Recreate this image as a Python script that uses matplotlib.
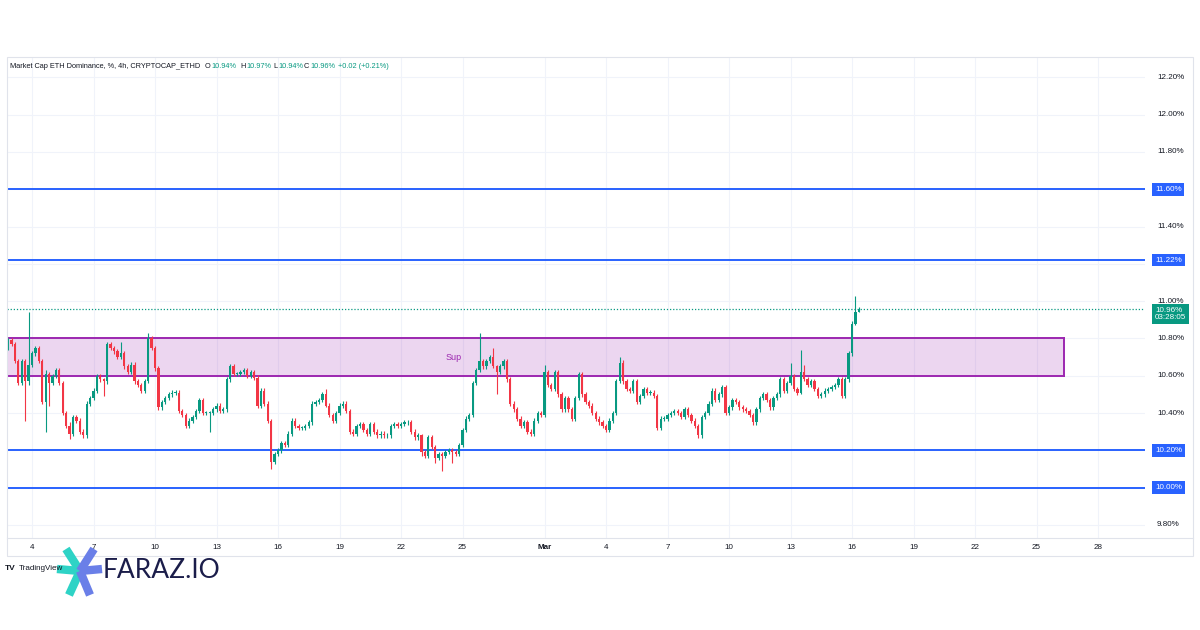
import numpy as np
import matplotlib
matplotlib.use("Agg")
import matplotlib.pyplot as plt
import matplotlib.patches as patches
import matplotlib.transforms as transforms
from matplotlib.lines import Line2D

plt.rcParams['font.family'] = ['Liberation Sans', 'DejaVu Sans']

# ---- data (ETH dominance, %, 4h candles from Feb 2 20:00) ----
first_open = 10.75
closes = [
    10.79, 10.77, 10.68, 10.56, 10.68, 10.57, 10.66, 10.72, 10.75, 10.68,
    10.46, 10.61, 10.56, 10.60, 10.63, 10.56, 10.40, 10.33, 10.29, 10.38,
    10.36, 10.30, 10.28, 10.45, 10.48, 10.52, 10.60, 10.58, 10.57, 10.77,
    10.75, 10.73, 10.70, 10.72, 10.65, 10.62, 10.66, 10.57, 10.55, 10.52,
    10.57, 10.80, 10.75, 10.64, 10.43, 10.46, 10.48, 10.50, 10.51, 10.51,
    10.41, 10.39, 10.33, 10.36, 10.38, 10.41, 10.47, 10.40, 10.40, 10.40,
    10.42, 10.44, 10.41, 10.42, 10.58, 10.65, 10.61, 10.61, 10.62, 10.63,
    10.60, 10.62, 10.59, 10.44, 10.52, 10.45, 10.36, 10.14, 10.18, 10.20,
    10.24, 10.23, 10.29, 10.36, 10.33, 10.32, 10.32, 10.33, 10.35, 10.45,
    10.46, 10.47, 10.50, 10.44, 10.39, 10.36, 10.40, 10.44, 10.45, 10.41,
    10.30, 10.29, 10.33, 10.34, 10.31, 10.29, 10.34, 10.30, 10.28, 10.29,
    10.28, 10.28, 10.33, 10.34, 10.33, 10.34, 10.35, 10.35, 10.30, 10.27,
    10.28, 10.19, 10.17, 10.27, 10.22, 10.16, 10.18, 10.17, 10.19, 10.20,
    10.19, 10.18, 10.23, 10.31, 10.37, 10.39, 10.56, 10.63, 10.68, 10.65,
    10.68, 10.70, 10.65, 10.62, 10.65, 10.68, 10.58, 10.45, 10.42, 10.37,
    10.33, 10.35, 10.30, 10.29, 10.36, 10.40, 10.39, 10.62, 10.55, 10.53,
    10.62, 10.50, 10.42, 10.48, 10.42, 10.37, 10.48, 10.61, 10.50, 10.46,
    10.44, 10.40, 10.37, 10.35, 10.33, 10.31, 10.36, 10.40, 10.57, 10.67,
    10.57, 10.53, 10.52, 10.57, 10.46, 10.49, 10.53, 10.51, 10.51, 10.49,
    10.32, 10.37, 10.37, 10.39, 10.40, 10.41, 10.40, 10.38, 10.42, 10.39,
    10.36, 10.33, 10.28, 10.38, 10.40, 10.45, 10.52, 10.47, 10.50, 10.54,
    10.40, 10.43, 10.47, 10.46, 10.43, 10.42, 10.41, 10.39, 10.35, 10.42,
    10.48, 10.50, 10.47, 10.43, 10.48, 10.50, 10.58, 10.52, 10.56, 10.60,
    10.53, 10.51, 10.62, 10.58, 10.55, 10.57, 10.53, 10.49, 10.50, 10.52,
    10.53, 10.54, 10.55, 10.58, 10.49, 10.58, 10.72, 10.88, 10.94, 10.96,
]
# candles with longer wicks (index, upper wick, lower wick), the rest get a small default
wick_index = [5, 6, 11, 12, 18, 28, 33, 41, 59, 77, 93, 121, 125, 127, 130,
              138, 142, 143, 157, 179, 229, 232, 233, 248, 249]
wick_upper = [0.01, 0.28, 0.02, 0.01, 0.02, 0.01, 0.06, 0.03, 0.01, 0.01, 0.03, 0.01, 0.01, 0.01, 0.01,
              0.15, 0.05, 0.01, 0.04, 0.03, 0.07, 0.12, 0.04, 0.09, 0.01]
wick_lower = [0.21, 0.02, 0.16, 0.12, 0.03, 0.08, 0.01, 0.01, 0.10, 0.04, 0.01, 0.02, 0.03, 0.08, 0.06,
              0.01, 0.01, 0.12, 0.01, 0.01, 0.01, 0.01, 0.01, 0.01, 0.0]
default_wick = 0.012

levels = [11.60, 11.22, 10.20, 10.00]
sup_low, sup_high = 10.60, 10.80
sup_end = 54.34          # Mar 26
last_price = 10.96
price_ticks = [9.80, 10.00, 10.20, 10.40, 10.60, 10.80, 11.00, 11.20, 11.40, 11.60, 11.80, 12.00, 12.20]
date_ticks = [4, 7, 10, 13, 16, 19, 22, 25, 29, 32, 35, 38, 41, 44, 47, 50, 53, 56]
date_labels = ['4', '7', '10', '13', '16', '19', '22', '25', 'Mar', '4', '7', '10', '13', '16', '19', '22', '25', '28']

UP = '#089981'
DOWN = '#F23645'
BLUE = '#2962FF'
PURPLE = '#9C27B0'
TXT = '#131722'

# ---- build candles ----
closes = np.array(closes)
opens = np.concatenate([[first_open], closes[:-1]])
up_w = np.full(len(closes), default_wick)
lo_w = np.full(len(closes), default_wick)
up_w[wick_index] = wick_upper
lo_w[wick_index] = wick_lower
highs = np.maximum(opens, closes) + up_w
lows = np.minimum(opens, closes) - lo_w
x = 2 + 20 / 24 + np.arange(len(closes)) / 6   # day of February, 4h steps

W, H = 1200, 630
fig = plt.figure(figsize=(12, 6.3), dpi=100)
ax = fig.add_axes([7 / W, 1 - 538 / H, (1145 - 7) / W, (538 - 57) / H])
ax.set_xlim(2.78, 58.29)
ax.set_ylim(9.730, 12.309)

for s in ax.spines.values():
    s.set_visible(False)
ax.set_yticks(price_ticks)
ax.set_xticks(date_ticks)
ax.set_xticklabels(date_labels)
ax.tick_params(axis='x', length=0, pad=4.5, labelsize=5.8, labelcolor=TXT)
ax.tick_params(axis='y', length=0, labelleft=False)
for lbl in ax.get_xticklabels():
    if lbl.get_text() == 'Mar':
        lbl.set_fontweight('bold')
ax.grid(True, color='#f0f3fa', linewidth=0.8)
ax.set_axisbelow(True)

# support zone
rect = patches.Rectangle((0, sup_low), sup_end, sup_high - sup_low,
                         facecolor=PURPLE, alpha=0.19, edgecolor='none', zorder=1)
ax.add_patch(rect)
ax.plot([0, sup_end], [sup_high, sup_high], color=PURPLE, lw=1.4, zorder=2)
ax.plot([0, sup_end], [sup_low, sup_low], color=PURPLE, lw=1.4, zorder=2)
ax.plot([sup_end, sup_end], [sup_low, sup_high], color=PURPLE, lw=1.4, zorder=2)
ax.text(24.55, 10.70, 'Sup', color=PURPLE, fontsize=6.5, ha='center', va='center', zorder=2)

# horizontal levels
for lv in levels:
    ax.axhline(lv, color=BLUE, lw=1.4, zorder=2)
ax.axhline(last_price, color=UP, lw=0.9, ls=(0, (1, 1.5)), zorder=2)

# candles
colors = np.where(closes >= opens, UP, DOWN)
ax.vlines(x, lows, highs, colors=colors, lw=0.8, zorder=3)
body = np.where(np.abs(closes - opens) < 0.004, 0.004, closes - opens)
ax.bar(x, body, bottom=opens, width=0.11, color=colors, edgecolor='none', zorder=4)

# price scale labels (right side)
tr = transforms.blended_transform_factory(fig.transFigure, ax.transData)
for p in price_ticks:
    ax.text(1157 / W, p, f'{p:.2f}%', transform=tr, fontsize=5.8, color=TXT,
            va='center', ha='left', clip_on=False)
for lv in levels:
    ax.text(1155 / W, lv, f'{lv:.2f}%', transform=tr, fontsize=5.8, color='white',
            va='center', ha='left', clip_on=False, zorder=6,
            bbox=dict(boxstyle='square,pad=0.35', facecolor=BLUE, edgecolor='none'))
ax.text(1155 / W, last_price + 0.010, f'{last_price:.2f}%\n03:28:05', transform=tr,
        fontsize=5.8, color='white', va='top', ha='left', clip_on=False, zorder=6,
        linespacing=1.05,
        bbox=dict(boxstyle='square,pad=0.4', facecolor=UP, edgecolor='none'))

# frame around chart panel
fig.add_artist(patches.Rectangle((7 / W, 1 - 556 / H), (1193 - 7) / W, (556 - 57) / H,
                                 transform=fig.transFigure, fill=False,
                                 edgecolor='#e0e3eb', lw=0.8))
fig.add_artist(Line2D([7 / W, 1193 / W], [1 - 538 / H, 1 - 538 / H],
                      transform=fig.transFigure, color='#e0e3eb', lw=0.8))

# header
ty = 1 - 67 / H
fig.text(10 / W, ty, 'Market Cap ETH Dominance, %, 4h, CRYPTOCAP_ETHD', fontsize=5.3,
         color=TXT, va='center')
header = [(205, 'O', TXT), (211, '10.94%', UP), (240, 'H', TXT), (246, '10.97%', UP),
          (273, 'L', TXT), (278, '10.94%', UP), (304, 'C', TXT), (310, '10.96%', UP),
          (338, '+0.02 (+0.21%)', UP)]
for px, s, c in header:
    fig.text(px / W, ty, s, fontsize=5.3, color=c, va='center')

# bottom branding
fig.text(5 / W, 1 - 568 / H, 'TV', fontsize=6, fontweight='bold', color=TXT, va='center')
fig.text(19 / W, 1 - 568 / H, 'TradingView', fontsize=5.8, color=TXT, va='center')
cx, cy = 80, 571
for (ex, ey), c in [((66, 549), '#2ED3C6'), ((57, 569), '#2ED3C6'), ((69, 595), '#2ED3C6'),
                    ((94, 549), '#6A7FE8'), ((102, 569), '#6A7FE8'), ((90, 595), '#6A7FE8')]:
    fig.add_artist(Line2D([cx / W, ex / W], [1 - cy / H, 1 - ey / H], transform=fig.transFigure,
                          color=c, lw=6, solid_capstyle='butt'))
fig.text(103 / W, 1 - 571 / H, 'FARAZ.IO', fontsize=19, fontweight='normal',
         family=['Lato', 'DejaVu Sans'], color='#1B1D4A', va='center')

fig.savefig('out.png', dpi=100, facecolor='white')
